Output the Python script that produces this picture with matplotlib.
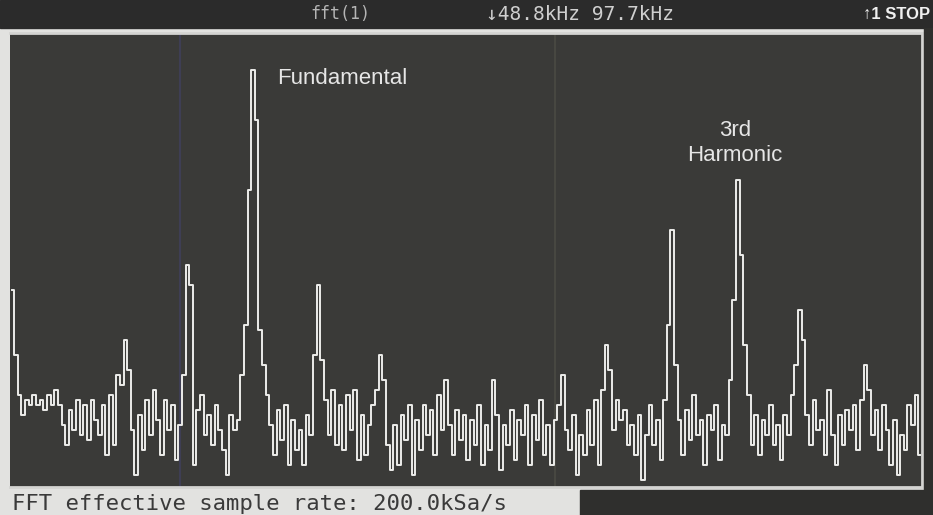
import numpy as np
import matplotlib
matplotlib.use("Agg")
import matplotlib.pyplot as plt
from matplotlib.patches import Rectangle

# ---- data: FFT magnitude (dB), one value per frequency bin ----
span_khz = 97.66
bin_khz = 0.3906
mag_db = [
    -51, -64, -72, -76, -73, -74, -72, -74, -73, -75,
    -72, -74, -71, -74, -78, -82, -75, -79, -73, -80,
    -74, -81, -73, -77, -80, -74, -84, -72, -82, -68,
    -70, -61, -67, -79, -88, -76, -83, -73, -80, -71,
    -77, -84, -73, -79, -74, -85, -78, -68, -46, -50,
    -86, -75, -72, -80, -76, -82, -74, -79, -83, -88,
    -76, -79, -77, -68, -58, -31, -7, -17, -59, -66,
    -72, -78, -84, -75, -81, -74, -86, -77, -83, -79,
    -86, -76, -80, -64, -50, -65, -73, -80, -71, -82,
    -74, -83, -72, -79, -71, -85, -76, -84, -78, -74,
    -71, -64, -69, -82, -87, -78, -86, -76, -81, -74,
    -88, -77, -83, -74, -80, -75, -84, -72, -79, -69,
    -78, -84, -75, -81, -76, -85, -77, -82, -74, -86,
    -78, -83, -69, -76, -87, -78, -82, -75, -85, -77,
    -80, -74, -86, -76, -81, -73, -84, -78, -86, -77,
    -74, -68, -79, -83, -76, -88, -80, -84, -75, -82,
    -73, -86, -71, -62, -67, -79, -73, -77, -75, -82,
    -78, -84, -76, -89, -80, -74, -82, -77, -85, -73,
    -58, -39, -66, -77, -84, -75, -81, -72, -80, -77,
    -86, -76, -79, -74, -85, -78, -80, -69, -53, -29,
    -44, -62, -72, -82, -76, -84, -77, -80, -74, -82,
    -78, -85, -76, -80, -72, -66, -55, -61, -76, -82,
    -73, -79, -77, -84, -71, -80, -86, -76, -82, -75,
    -79, -74, -83, -73, -66, -71, -80, -75, -83, -74,
    -79, -86, -77, -88, -80, -83, -74, -78, -72, -84,
]
freq_khz = np.arange(len(mag_db)) * bin_khz

header_left = "fft(1)"
header_mid = "\u219348.8kHz 97.7kHz"
header_right = "\u21911 STOP"
footer = "FFT effective sample rate: 200.0kSa/s"
label_fund = "Fundamental"
label_third = "3rd\nHarmonic"

W, H = 933, 515
fig = plt.figure(figsize=(W / 100, H / 100), dpi=100, facecolor="#e2e2e0")

# dark bars of the instrument screen
fig.patches.append(Rectangle((0, 1 - 28 / H), 1, 28 / H, transform=fig.transFigure,
                             color="#2b2b2b", zorder=0))
fig.patches.append(Rectangle((924 / W, 25 / H), 9 / W, 1 - 53 / H, transform=fig.transFigure,
                             color="#2f2f2d", zorder=0))
fig.patches.append(Rectangle((580 / W, 0), 1 - 580 / W, 25 / H, transform=fig.transFigure,
                             color="#2f2f2d", zorder=0))

ax = fig.add_axes([10 / W, (H - 487) / H, 912 / W, (487 - 33) / H])
ax.set_facecolor("#3a3a38")
ax.set_xlim(-0.25, span_khz - 0.21)
ax.set_ylim(-90.4, 0.4)
ax.set_xticks([])
ax.set_yticks([])
for side in ["top", "right", "bottom"]:
    ax.spines[side].set_color("#d4d4d2")
    ax.spines[side].set_linewidth(2)
ax.spines["left"].set_visible(False)

# faint screen lines
ax.axvline(17.96, color="#3e3e54", lw=1.5, zorder=1)
ax.axvline(58.1, color="#4a4a44", lw=1.2, zorder=1)

ax.plot(freq_khz, mag_db, drawstyle="steps-mid", color="#ececea", lw=1.4, zorder=3)

ax.text(28.35, -8.8, label_fund, color="#e6e6e6", fontsize=16,
        family="Liberation Sans", ha="left", va="center")
ax.text(77.4, -21.6, label_third, color="#e6e6e6", fontsize=16,
        family="Liberation Sans", ha="center", va="center", linespacing=1.2)

fig.text(340 / W, 1 - 14 / H, header_left, color="#b5b5b5", fontsize=12,
         family="DejaVu Sans Mono", ha="center", va="center")
fig.text(486 / W, 1 - 14 / H, header_mid, color="#cfcfcf", fontsize=14,
         family="DejaVu Sans Mono", ha="left", va="center")
fig.text(930 / W, 1 - 14 / H, header_right, color="#f0f0f0", fontsize=12,
         family="Liberation Sans", weight="bold", ha="right", va="center")
fig.text(12 / W, 11 / H, footer, color="#3a3a3a", fontsize=16,
         family="DejaVu Sans Mono", ha="left", va="center")

fig.savefig("out.png", dpi=100, facecolor=fig.get_facecolor())
